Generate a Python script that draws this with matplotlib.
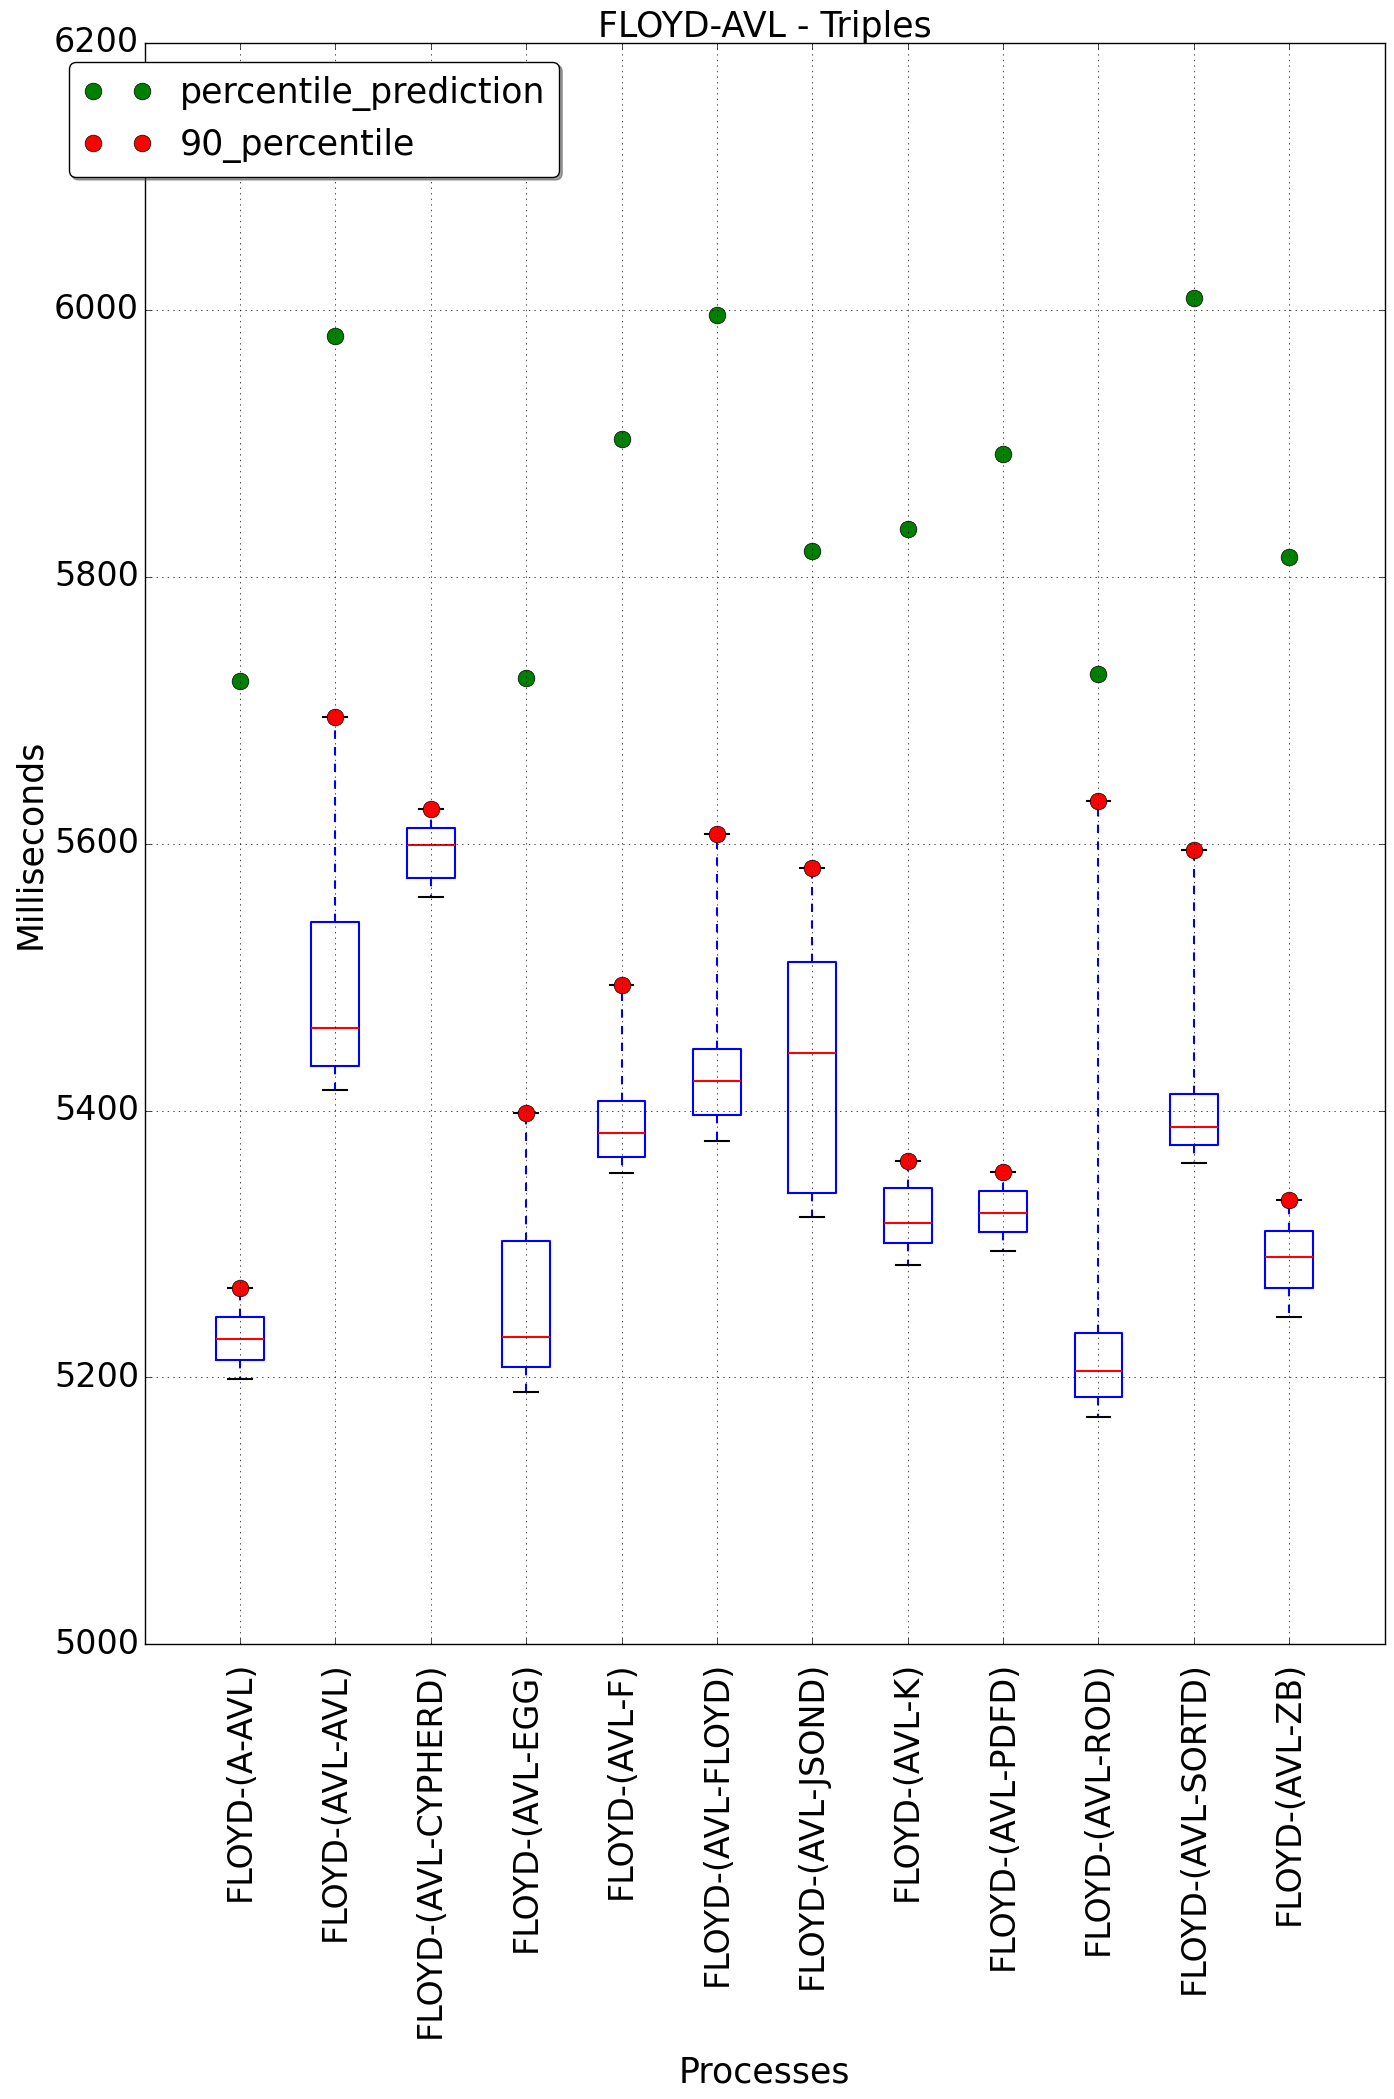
import matplotlib
matplotlib.use('Agg')
import matplotlib.pyplot as plt

plt.style.use('classic')

processes = ['FLOYD-(A-AVL)', 'FLOYD-(AVL-AVL)', 'FLOYD-(AVL-CYPHERD)', 'FLOYD-(AVL-EGG)',
             'FLOYD-(AVL-F)', 'FLOYD-(AVL-FLOYD)', 'FLOYD-(AVL-JSOND)', 'FLOYD-(AVL-K)',
             'FLOYD-(AVL-PDFD)', 'FLOYD-(AVL-ROD)', 'FLOYD-(AVL-SORTD)', 'FLOYD-(AVL-ZB)']

# box stats (ms)
q1 = [5213, 5433, 5574, 5208, 5365, 5397, 5338, 5301, 5309, 5185, 5374, 5267]
medians = [5229, 5462, 5599, 5230, 5383, 5422, 5443, 5316, 5323, 5205, 5388, 5290]
q3 = [5245, 5541, 5612, 5302, 5407, 5446, 5511, 5342, 5340, 5233, 5412, 5310]
whisker_low = [5199, 5415, 5560, 5189, 5353, 5377, 5320, 5284, 5295, 5170, 5361, 5245]
percentile_90 = [5267, 5695, 5626, 5398, 5494, 5607, 5582, 5362, 5354, 5632, 5595, 5333]
percentile_prediction = [5722, 5980, 6150, 5724, 5903, 5996, 5819, 5836, 5892, 5727, 6009, 5815]

positions = list(range(1, len(processes) + 1))

stats = []
for i, name in enumerate(processes):
    stats.append({'label': name, 'q1': q1[i], 'med': medians[i], 'q3': q3[i],
                  'whislo': whisker_low[i], 'whishi': percentile_90[i], 'fliers': []})

fig = plt.figure(figsize=(13.94, 20.99), dpi=100)
fig.subplots_adjust(left=0.1037, right=0.9933, top=0.9796, bottom=0.2166)
ax = fig.add_subplot(111)

ax.bxp(stats, positions=positions, widths=0.5,
       boxprops=dict(color='b', linewidth=1.5),
       whiskerprops=dict(color='b', linestyle='--', linewidth=1.5),
       capprops=dict(color='k', linewidth=1.5),
       medianprops=dict(color='r', linewidth=1.5))

ax.plot(positions, percentile_prediction, 'go', markersize=12, label='percentile_prediction')
ax.plot(positions, percentile_90, 'ro', markersize=12, label='90_percentile')

ax.set_xlim(0, 13)
ax.set_ylim(5000, 6200)
ax.set_yticks(range(5000, 6201, 200))
ax.set_xticks(positions)
ax.set_xticklabels(processes, rotation=90, fontsize=24)
ax.tick_params(axis='y', labelsize=24)
ax.tick_params(axis='x', pad=12)
ax.grid(True)

ax.set_title('FLOYD-AVL - Triples', fontsize=25, pad=4)
ax.set_xlabel('Processes', fontsize=25, labelpad=13)
ax.set_ylabel('Milliseconds', fontsize=25)

ax.legend(loc='upper left', bbox_to_anchor=(-0.061, 0.988), borderaxespad=0,
          fancybox=True, shadow=True, fontsize=25, numpoints=2)

fig.savefig('out.png', dpi=100)
